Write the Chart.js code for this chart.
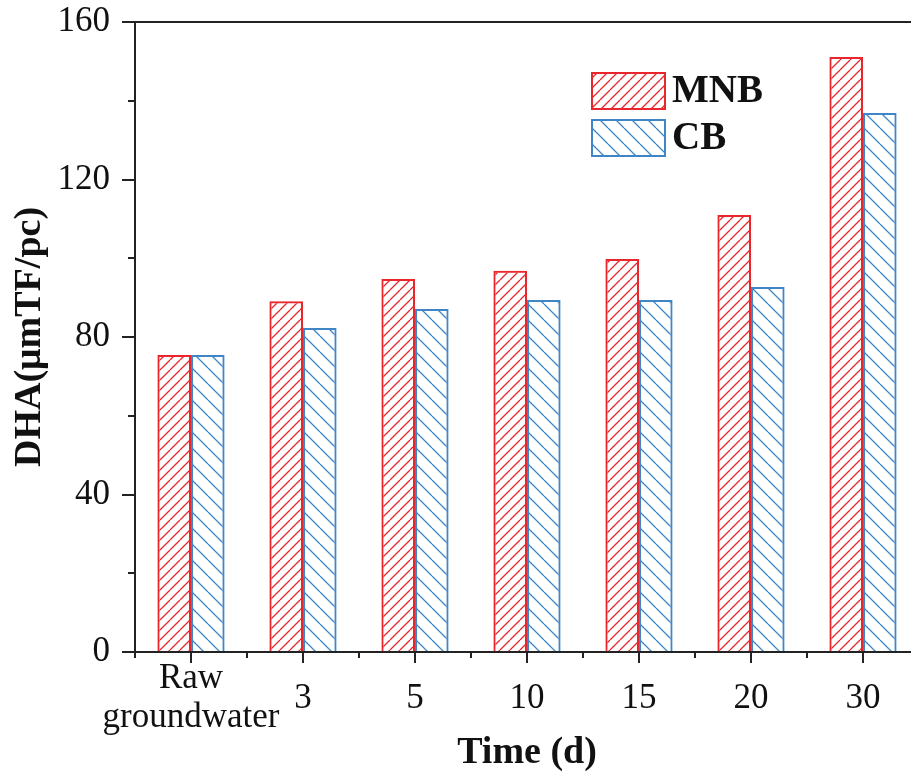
<!DOCTYPE html>
<html>
<head>
<meta charset="utf-8">
<script src="https://cdn.jsdelivr.net/npm/chart.js@4.4.1/dist/chart.umd.min.js"></script>
<style>
  html, body { margin: 0; padding: 0; background: #fff; overflow: hidden; }
  #wrap { width: 930px; height: 779px; }
</style>
</head>
<body>
<div id="wrap"><canvas id="c" width="930" height="779"></canvas></div>
<script>
// values
const categories = [['Raw', 'groundwater'], '3', '5', '10', '15', '20', '30'];
const mnbValues = [75.4, 89.1, 94.7, 96.8, 99.8, 111.0, 151.1];
const cbValues = [75.4, 82.3, 87.1, 89.4, 89.4, 92.7, 136.9];
const yTicks = [0, 40, 80, 120, 160];
const yMinorTicks = [20, 60, 100, 140];

const RED = '#e8262c';
const BLUE = '#3f86c6';
const SERIF = "'Liberation Serif', 'Times New Roman', serif";

const canvas = document.getElementById('c');
const ctx = canvas.getContext('2d');

// diagonal hatch fill; dir 1 = '/', -1 = '\'
function hatch(color, size, dir) {
  const c = document.createElement('canvas');
  c.width = c.height = size;
  const g = c.getContext('2d');
  g.strokeStyle = color;
  g.lineWidth = 1.3;
  g.beginPath();
  for (let k = -1; k <= 1; k++) {
    const o = k * size;
    if (dir > 0) { g.moveTo(o, size); g.lineTo(o + size, 0); }
    else { g.moveTo(o, 0); g.lineTo(o + size, size); }
  }
  g.stroke();
  return ctx.createPattern(c, 'repeat');
}

const redFill = hatch(RED, 10, 1);
const blueFill = hatch(BLUE, 16, -1);

// axis lines, major/minor tick marks, top frame line
const axisFrame = {
  id: 'axisFrame',
  afterDatasetsDraw(chart) {
    const { ctx, chartArea: a, scales: { x, y } } = chart;
    ctx.save();
    ctx.strokeStyle = '#222';
    ctx.lineWidth = 2;
    ctx.beginPath();
    ctx.moveTo(a.left, a.top); ctx.lineTo(a.left, a.bottom);
    ctx.moveTo(a.left, a.bottom); ctx.lineTo(a.right, a.bottom);
    ctx.moveTo(a.left, a.top); ctx.lineTo(a.right, a.top);
    yTicks.forEach((v) => {
      const py = Math.round(y.getPixelForValue(v));
      ctx.moveTo(a.left - 13, py); ctx.lineTo(a.left, py);
    });
    yMinorTicks.forEach((v) => {
      const py = Math.round(y.getPixelForValue(v));
      ctx.moveTo(a.left - 7, py); ctx.lineTo(a.left, py);
    });
    categories.forEach((c, i) => {
      const px = Math.round(x.getPixelForValue(i));
      ctx.moveTo(px, a.bottom); ctx.lineTo(px, a.bottom + 11);
      const pm = Math.round(x.getPixelForValue(i - 0.5));
      ctx.moveTo(pm, a.bottom); ctx.lineTo(pm, a.bottom + 6);
    });
    ctx.stroke();
    ctx.restore();
  }
};

// legend box in the upper right of the plot
const hatchLegend = {
  id: 'hatchLegend',
  afterDraw(chart) {
    const { ctx } = chart;
    ctx.save();
    chart.data.datasets.forEach((ds, i) => {
      const bx = 592, by = 73 + i * 47, bw = 73, bh = 36;
      ctx.fillStyle = ds.backgroundColor;
      ctx.fillRect(bx, by, bw, bh);
      ctx.strokeStyle = ds.borderColor;
      ctx.lineWidth = 2;
      ctx.strokeRect(bx, by, bw, bh);
      ctx.fillStyle = '#111';
      ctx.font = 'bold 39px ' + SERIF;
      ctx.textAlign = 'left';
      ctx.textBaseline = 'middle';
      ctx.fillText(ds.label, bx + bw + 7, by + bh / 2 + 1);
    });
    ctx.restore();
  }
};

new Chart(canvas, {
  type: 'bar',
  data: {
    labels: categories,
    datasets: [
      { label: 'MNB', data: mnbValues, backgroundColor: redFill, borderColor: RED, borderWidth: 2 },
      { label: 'CB', data: cbValues, backgroundColor: blueFill, borderColor: BLUE, borderWidth: 2 }
    ]
  },
  options: {
    responsive: false,
    animation: false,
    devicePixelRatio: 1,
    layout: { autoPadding: false, padding: { top: 22, right: 11, left: 0, bottom: 0 } },
    datasets: { bar: { categoryPercentage: 0.6, barPercentage: 1.0 } },
    plugins: { legend: { display: false }, tooltip: { enabled: false } },
    scales: {
      x: {
        grid: { display: false, drawTicks: false },
        border: { display: false },
        ticks: {
          color: '#111', padding: 27, crossAlign: 'center', maxRotation: 0, autoSkip: false,
          font: { family: SERIF, size: 35, lineHeight: 1.11 }
        },
        title: {
          display: true, text: 'Time (d)', color: '#111',
          font: { family: SERIF, size: 38, weight: 'bold', lineHeight: 1.2 },
          padding: { top: 0, bottom: 3 }
        },
        afterFit(scale) {
          scale.height = 127;
          scale.paddingLeft = 0;
          scale.paddingRight = 0;
        }
      },
      y: {
        min: 0, max: 160,
        grid: { display: false, drawTicks: false },
        border: { display: false },
        ticks: {
          stepSize: 40, color: '#111', padding: 25,
          font: { family: SERIF, size: 35 }
        },
        title: {
          display: true, text: 'DHA(μmTF/pc)', color: '#111',
          font: { family: SERIF, size: 38, weight: 'bold', lineHeight: 1.2 },
          padding: { top: 7, bottom: 0 }
        },
        afterFit(scale) {
          scale.width = 135;
          scale.paddingTop = 0;
          scale.paddingBottom = 0;
        }
      }
    }
  },
  plugins: [axisFrame, hatchLegend]
});
</script>
</body>
</html>
